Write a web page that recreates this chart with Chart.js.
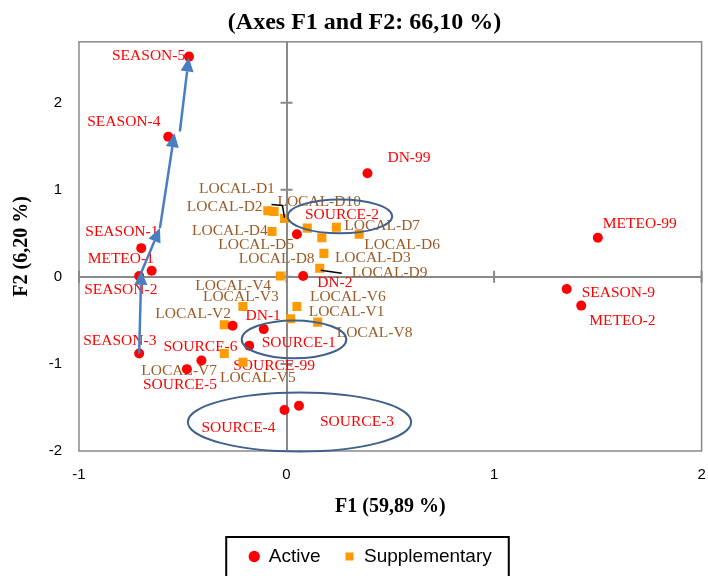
<!DOCTYPE html>
<html>
<head>
<meta charset="utf-8">
<script src="https://cdn.jsdelivr.net/npm/chart.js@4.4.1/dist/chart.umd.min.js"></script>
<style>
  html, body { margin: 0; padding: 0; background: #fff; }
  #wrap { width: 708px; height: 576px; }
</style>
</head>
<body>
<div id="wrap"><canvas id="myChart"></canvas></div>
<script>
const xTicks = [-1, 0, 1, 2];
const yTicks = [-2, -1, 0, 1, 2];

const activeNames = ['SEASON-5', 'SEASON-4', 'SEASON-1', 'METEO-1', 'SEASON-2', 'SEASON-3',
  'SOURCE-6', 'SOURCE-5', 'DN-1', 'SOURCE-1', 'SOURCE-99', 'SOURCE-4', 'SOURCE-3',
  'SOURCE-2', 'DN-2', 'DN-99', 'METEO-99', 'SEASON-9', 'METEO-2'];
const activeF1 = [-0.47, -0.57, -0.70, -0.65, -0.71, -0.71, -0.41, -0.48, -0.26, -0.11, -0.18,
  -0.01, 0.06, 0.05, 0.08, 0.39, 1.50, 1.35, 1.42];
const activeF2 = [2.53, 1.61, 0.33, 0.07, 0.01, -0.88, -0.96, -1.06, -0.56, -0.60, -0.79,
  -1.53, -1.48, 0.49, 0.01, 1.19, 0.45, -0.14, -0.33];

const suppNames = ['LOCAL-D1', 'LOCAL-D2', 'LOCAL-D3', 'LOCAL-D4', 'LOCAL-D5', 'LOCAL-D6',
  'LOCAL-D7', 'LOCAL-D8', 'LOCAL-D9', 'LOCAL-D10', 'LOCAL-V1', 'LOCAL-V2', 'LOCAL-V3',
  'LOCAL-V4', 'LOCAL-V5', 'LOCAL-V6', 'LOCAL-V7', 'LOCAL-V8'];
const suppF1 = [-0.06, -0.09, 0.18, -0.07, 0.10, 0.35, 0.24, 0.17, 0.16, -0.01,
  0.02, -0.30, -0.21, -0.03, -0.21, 0.05, -0.30, 0.15];
const suppF2 = [0.75, 0.76, 0.27, 0.52, 0.56, 0.49, 0.57, 0.45, 0.10, 0.67,
  -0.48, -0.55, -0.34, 0.01, -0.98, -0.34, -0.88, -0.52];

// season trajectory arrows [x0, y0, x1, y1] in axis units
const arrows = [
  [-0.71, -0.88, -0.70, 0.07],
  [-0.70, 0.05, -0.61, 0.56],
  [-0.61, 0.56, -0.54, 1.65],
  [-0.514, 1.67, -0.471, 2.52]
];
// groups circled on the map [cx, cy, rx, ry] in axis units
const ellipses = [
  [0.257, 0.695, 0.252, 0.195],
  [0.036, -0.718, 0.252, 0.218],
  [0.0625, -1.667, 0.538, 0.339]
];

// label placement, pixels from the marker (left edge, middle)
const labelOffset = {
  'SEASON-5': [-77, -1], 'SEASON-4': [-81, -15], 'SEASON-1': [-56, -16], 'METEO-1': [-64, -12],
  'SEASON-2': [-55, 14], 'SEASON-3': [-56, -13], 'SOURCE-6': [-38, -14], 'SOURCE-5': [-44, 16],
  'DN-1': [13, -10], 'SOURCE-1': [-2, 14], 'SOURCE-99': [-16, 20], 'SOURCE-4': [-83, 18],
  'SOURCE-3': [21, 16], 'SOURCE-2': [8, -19], 'DN-2': [14, 7], 'DN-99': [20, -15],
  'METEO-99': [5, -14], 'SEASON-9': [15, 4], 'METEO-2': [8, 15],
  'LOCAL-D1': [-75, -23], 'LOCAL-D2': [-81, -4], 'LOCAL-D3': [11, 5], 'LOCAL-D4': [-80, -1],
  'LOCAL-D5': [-89, 17], 'LOCAL-D6': [5, 11], 'LOCAL-D7': [8, -1], 'LOCAL-D8': [-83, 21],
  'LOCAL-D9': [32, 5], 'LOCAL-D10': [-7, -17], 'LOCAL-V1': [18, -7], 'LOCAL-V2': [-69, -11],
  'LOCAL-V3': [-40, -10], 'LOCAL-V4': [-85, 10], 'LOCAL-V5': [-23, 16], 'LOCAL-V6': [13, -10],
  'LOCAL-V7': [-83, 17], 'LOCAL-V8': [19, 11]
};
const leaders = {
  'LOCAL-D10': [[-13, -14], [-2, -13], [0, -1]],
  'LOCAL-D9': [[1, 2], [22, 5]]
};

const labelColors = ['#FF0000', '#9C5B26'];
const axisGrey = '#898989';

const pts = (xs, ys) => xs.map((x, i) => ({ x, y: ys[i] }));

const mapDecor = {
  id: 'mapDecor',
  afterLayout(chart) {
    // nudge title and legend to sit where they do in the original
    chart.titleBlock.left += 8; chart.titleBlock.right += 8;
    chart.legend.left += 14; chart.legend.right += 14;
  },
  beforeDatasetsDraw(chart) {
    const { ctx, chartArea: a, scales: { x, y } } = chart;
    ctx.save();
    ctx.strokeStyle = axisGrey;
    ctx.lineWidth = 1.5;
    ctx.strokeRect(a.left, a.top, a.right - a.left, a.bottom - a.top);
    ctx.lineWidth = 2;
    const x0 = x.getPixelForValue(0), y0 = y.getPixelForValue(0);
    ctx.beginPath();
    xTicks.forEach(v => { const px = x.getPixelForValue(v); ctx.moveTo(px, y0 - 6); ctx.lineTo(px, y0 + 6); });
    yTicks.forEach(v => { const py = y.getPixelForValue(v); ctx.moveTo(x0 - 6, py); ctx.lineTo(x0 + 6, py); });
    ctx.stroke();

    ctx.font = '15.5px "Liberation Serif", "Times New Roman", serif';
    ctx.textBaseline = 'middle';
    ctx.textAlign = 'left';
    chart.data.datasets.forEach((ds, di) => {
      const meta = chart.getDatasetMeta(di);
      ctx.fillStyle = labelColors[di];
      meta.data.forEach((el, i) => {
        const name = ds.names[i];
        const off = labelOffset[name] || [8, 0];
        ctx.fillText(name, el.x + off[0], el.y + off[1]);
      });
    });
    ctx.restore();
  },
  afterDatasetsDraw(chart) {
    const { ctx, scales: { x, y } } = chart;
    ctx.save();
    // leader lines
    ctx.strokeStyle = '#000';
    ctx.lineWidth = 1.5;
    chart.data.datasets.forEach((ds, di) => {
      const meta = chart.getDatasetMeta(di);
      meta.data.forEach((el, i) => {
        const path = leaders[ds.names[i]];
        if (!path) return;
        ctx.beginPath();
        path.forEach((p, k) => k ? ctx.lineTo(el.x + p[0], el.y + p[1]) : ctx.moveTo(el.x + p[0], el.y + p[1]));
        ctx.stroke();
      });
    });
    // ellipses
    ctx.strokeStyle = '#41618C';
    ctx.lineWidth = 2;
    ellipses.forEach(([cx, cy, rx, ry]) => {
      const px = x.getPixelForValue(cx), py = y.getPixelForValue(cy);
      const prx = Math.abs(x.getPixelForValue(cx + rx) - px);
      const pry = Math.abs(y.getPixelForValue(cy + ry) - py);
      ctx.beginPath();
      ctx.ellipse(px, py, prx, pry, 0, 0, Math.PI * 2);
      ctx.stroke();
    });
    // arrows
    ctx.strokeStyle = '#4A7EC2';
    ctx.fillStyle = '#4A7EC2';
    ctx.lineWidth = 2.5;
    arrows.forEach(([ax, ay, bx, by]) => {
      const x1 = x.getPixelForValue(ax), y1 = y.getPixelForValue(ay);
      const x2 = x.getPixelForValue(bx), y2 = y.getPixelForValue(by);
      const ang = Math.atan2(y2 - y1, x2 - x1);
      const len = 14, hw = 6.5;
      const bxp = x2 - len * Math.cos(ang), byp = y2 - len * Math.sin(ang);
      ctx.beginPath();
      ctx.moveTo(x1, y1);
      ctx.lineTo(bxp, byp);
      ctx.stroke();
      ctx.beginPath();
      ctx.moveTo(x2, y2);
      ctx.lineTo(bxp + hw * Math.sin(ang), byp - hw * Math.cos(ang));
      ctx.lineTo(bxp - hw * Math.sin(ang), byp + hw * Math.cos(ang));
      ctx.closePath();
      ctx.fill();
    });
    ctx.restore();
  },
  afterDraw(chart) {
    const hb = chart.legend.legendHitBoxes;
    if (!hb || !hb.length) return;
    const first = hb[0], last = hb[hb.length - 1];
    const ctx = chart.ctx;
    ctx.save();
    ctx.strokeStyle = '#000';
    ctx.lineWidth = 2;
    ctx.strokeRect(first.left - 23, first.top - 10, last.left + last.width - first.left + 40, 60);
    ctx.restore();
  }
};

const zeroOnly = c => (c.tick && c.tick.value === 0) ? axisGrey : 'rgba(0,0,0,0)';

const config = {
  type: 'scatter',
  data: {
    datasets: [{
      label: 'Active',
      names: activeNames,
      data: pts(activeF1, activeF2),
      backgroundColor: '#FF0000',
      borderWidth: 0,
      pointStyle: 'circle',
      pointRadius: 5,
      pointHoverRadius: 5
    }, {
      label: 'Supplementary',
      names: suppNames,
      data: pts(suppF1, suppF2),
      backgroundColor: '#FF9A00',
      borderWidth: 0,
      pointStyle: 'rect',
      pointRadius: 6.4,
      pointHoverRadius: 6.4
    }]
  },
  options: {
    animation: false,
    responsive: true,
    maintainAspectRatio: false,
    layout: { padding: { left: 10, right: 5, top: 0, bottom: 0 } },
    plugins: {
      title: {
        display: true,
        text: '(Axes F1 and F2: 66,10 %)',
        color: '#000',
        font: { family: '"Liberation Serif", "Times New Roman", serif', size: 24, weight: 'bold' },
        padding: { top: 8, bottom: 5 }
      },
      legend: {
        position: 'bottom',
        labels: {
          usePointStyle: true,
          boxWidth: 10,
          boxHeight: 8,
          padding: 24,
          color: '#000',
          font: { family: '"Liberation Sans", Arial, sans-serif', size: 19 }
        }
      },
      tooltip: { enabled: false }
    },
    scales: {
      x: {
        type: 'linear',
        min: -1,
        max: 2,
        afterBuildTicks: s => { s.ticks = xTicks.map(v => ({ value: v })); },
        afterFit: s => { s.height = 72; s.paddingLeft = 0; s.paddingRight = 0; },
        grid: { color: zeroOnly, lineWidth: 2, drawTicks: false },
        border: { display: false },
        ticks: {
          padding: 15,
          color: '#000',
          font: { family: '"Liberation Sans", Arial, sans-serif', size: 15 }
        },
        title: {
          display: true,
          text: 'F1 (59,89 %)',
          color: '#000',
          font: { family: '"Liberation Serif", "Times New Roman", serif', size: 20, weight: 'bold' },
          padding: { top: 0, bottom: 4 }
        }
      },
      y: {
        type: 'linear',
        min: -2,
        max: 2.7,
        afterBuildTicks: s => { s.ticks = yTicks.map(v => ({ value: v })); },
        afterFit: s => { s.width = 69; s.paddingTop = 0; s.paddingBottom = 0; },
        grid: { color: zeroOnly, lineWidth: 2, drawTicks: false },
        border: { display: false },
        ticks: {
          padding: 17,
          color: '#000',
          font: { family: '"Liberation Sans", Arial, sans-serif', size: 15 }
        },
        title: {
          display: true,
          text: 'F2 (6,20 %)',
          color: '#000',
          font: { family: '"Liberation Serif", "Times New Roman", serif', size: 20, weight: 'bold' },
          padding: { top: 0, bottom: 0 }
        }
      }
    }
  },
  plugins: [mapDecor]
};

const myChart = new Chart(document.getElementById('myChart'), config);
</script>
</body>
</html>
